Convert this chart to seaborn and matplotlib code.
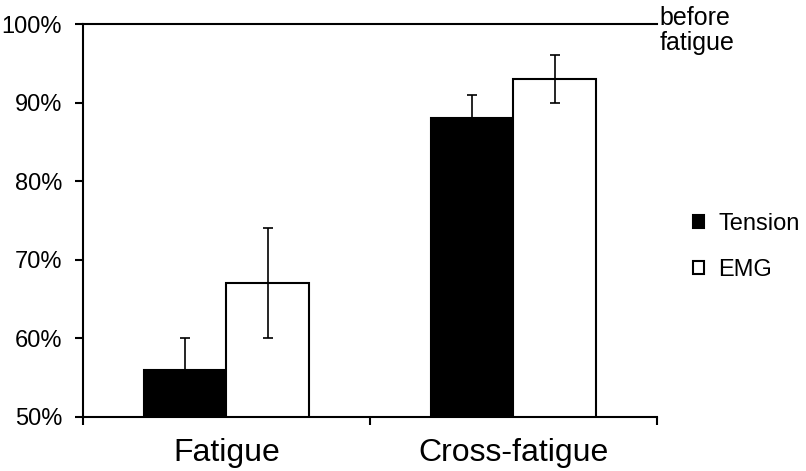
import pandas as pd
import matplotlib
matplotlib.use('Agg')
import matplotlib.pyplot as plt
import seaborn as sns

# data
conditions = ['Fatigue', 'Cross-fatigue']
measures = ['Tension', 'EMG']
tension = [56, 88]
tension_err = [4, 3]
emg = [67, 93]
emg_err = [7, 3]

df = pd.DataFrame({
    'condition': conditions * 2,
    'measure': [measures[0]] * 2 + [measures[1]] * 2,
    'value': tension + emg,
    'err': tension_err + emg_err,
})

sns.set_style('white')
plt.rcParams['font.family'] = ['Liberation Sans', 'DejaVu Sans']
plt.rcParams['text.color'] = 'black'
plt.rcParams['xtick.color'] = 'black'
plt.rcParams['ytick.color'] = 'black'

fig = plt.figure(figsize=(8.06, 4.71), dpi=100)
ax = fig.add_axes([0.103, 0.115, 0.712, 0.834])

sns.barplot(data=df, x='condition', y='value', hue='measure',
            hue_order=measures, order=conditions,
            palette={'Tension': 'black', 'EMG': 'white'},
            edgecolor='black', linewidth=1.5, width=0.574,
            errorbar=None, legend=False, ax=ax)

bar_conts = list(ax.containers)

# error bars at the bar centres
for cont, m in zip(bar_conts, measures):
    sub = df[df['measure'] == m]
    xs = [p.get_x() + p.get_width() / 2 for p in cont.patches]
    ax.errorbar(xs, sub['value'], yerr=sub['err'], fmt='none',
                ecolor='black', elinewidth=1.2, capsize=3.6, capthick=1.2, zorder=5)

ax.set_ylim(50, 100)
ax.set_xlim(-0.5, 1.5)
ax.set_yticks([50, 60, 70, 80, 90, 100])
ax.set_yticklabels([f'{v}%' for v in [50, 60, 70, 80, 90, 100]], fontsize=17)

# category ticks sit on the boundaries, labels in the middle
ax.set_xticks([-0.5, 0.5, 1.5])
ax.set_xticklabels([])
ax.set_xticks([0, 1], minor=True)
ax.set_xticklabels(conditions, minor=True, fontsize=23)
ax.tick_params(axis='x', which='minor', bottom=True, length=0, pad=15)
ax.tick_params(axis='x', which='major', bottom=True, length=6, width=1.5, direction='out')
ax.tick_params(axis='y', left=True, length=6, width=1.5, direction='out', pad=9)
ax.set_xlabel('')
ax.set_ylabel('')

for s in ['left', 'bottom', 'top']:
    ax.spines[s].set_color('black')
    ax.spines[s].set_linewidth(1.5)
ax.spines['right'].set_visible(False)

ax.text(1.004, 0.983, 'before\nfatigue', transform=ax.transAxes,
        ha='left', va='center', fontsize=18, linespacing=1.05)

handles = [c.patches[0] for c in bar_conts]
ax.legend(handles, measures, loc='center left', bbox_to_anchor=(0.834, 0.476),
          bbox_transform=fig.transFigure, frameon=False, fontsize=17,
          handlelength=0.45, handleheight=0.45, handletextpad=0.6, labelspacing=1.0)

plt.savefig('out.png', dpi=100)
plt.close()
